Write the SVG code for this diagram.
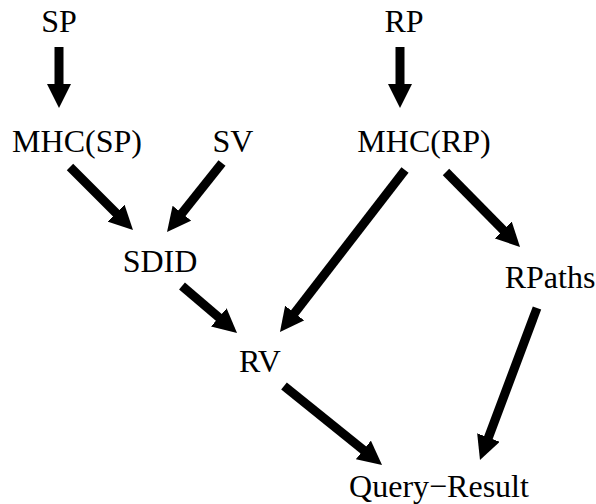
<svg xmlns="http://www.w3.org/2000/svg" width="596" height="504" viewBox="0 0 596 504">
<style>
text{font-family:"Liberation Serif","Times New Roman",serif;font-size:32px;fill:#000;text-anchor:middle}
.c line{stroke:#000;stroke-width:9;marker-end:url(#ah)}
</style>
<defs>
<marker id="ah" markerUnits="userSpaceOnUse" markerWidth="24" markerHeight="24" refX="12" refY="12" orient="auto" viewBox="0 0 24 24">
<path d="M0,0 L24,12 L0,24 z" fill="#000"/>
</marker>
</defs>
<rect width="596" height="504" fill="#fff"/>
<g id="SP"><text x="59" y="32">SP</text></g>
<g id="RP"><text x="404" y="32">RP</text></g>
<g id="MHC_SP"><text x="77" y="152">MHC(SP)</text></g>
<g id="SV"><text x="233" y="152">SV</text></g>
<g id="MHC_RP"><text x="424" y="152">MHC(RP)</text></g>
<g id="SDID"><text x="160" y="272">SDID</text></g>
<g id="RPaths"><text x="550" y="288">RPaths</text></g>
<g id="RV"><text x="260" y="372">RV</text></g>
<g id="QueryResult"><text x="439" y="497">Query−Result</text></g>
<g class="c" id="connectors">
<line x1="59" y1="47" x2="59" y2="96"/>
<line x1="400" y1="47" x2="400" y2="96"/>
<line x1="70" y1="167" x2="124.5" y2="221.5"/>
<line x1="222" y1="163" x2="174.5" y2="222.6"/>
<line x1="405" y1="170" x2="287.3" y2="322.5"/>
<line x1="446" y1="172" x2="511.6" y2="238.5"/>
<line x1="182" y1="286" x2="227.9" y2="325.2"/>
<line x1="284" y1="386" x2="372.7" y2="457.5"/>
<line x1="537" y1="308" x2="484.2" y2="448.8"/>
</g>
</svg>
